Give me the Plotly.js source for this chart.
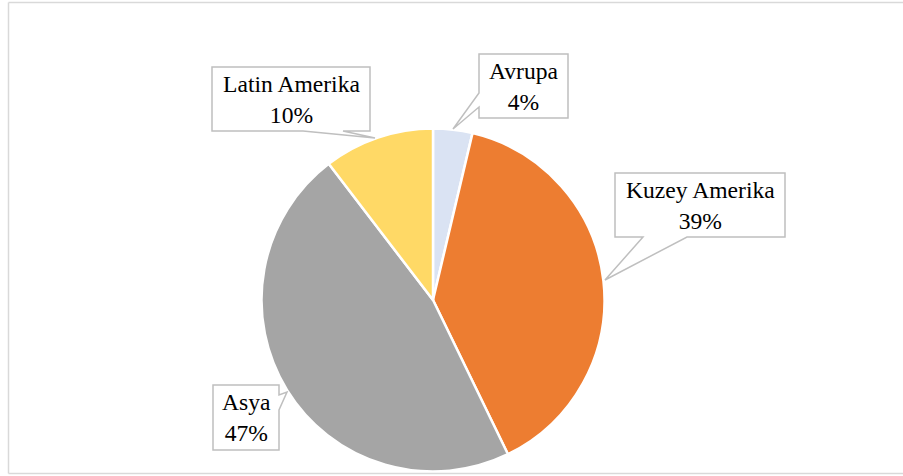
<!DOCTYPE html>
<html>
<head>
<meta charset="utf-8">
<script src="https://cdn.plot.ly/plotly-3.0.1.min.js"></script>
<style>html,body{margin:0;padding:0;background:#fff;}#chart{width:903px;height:476px;}</style>
</head>
<body>
<div id="chart"></div>
<script>
// Data
const categories = ["Avrupa", "Kuzey Amerika", "Asya", "Latin Amerika"];
const values = [3.7, 39.1, 46.8, 10.4];
const colors = ["#dae3f3", "#ed7d31", "#a5a5a5", "#ffd966"];

const W = 903, H = 476;
const px = x => x / W;
const py = y => 1 - y / H;
const FONT = "Liberation Serif";

// Callout geometry (pixels): box + tail path, label center
const callouts = [
  {path: [[479,54],[568,54],[568,118],[479,118],[479,107],[453,129],[479,93]], cx: 523.5, cy: 86},
  {path: [[615,173],[785,173],[785,237],[687,237],[605,280],[643,237],[615,237]], cx: 700, cy: 205},
  {path: [[213,385],[279,385],[279,395],[287,392],[279,410],[279,450],[213,450]], cx: 246, cy: 417.5},
  {path: [[212,67],[370,67],[370,131],[343,131],[375,138],[303,131],[212,131]], cx: 291, cy: 99}
];

const total = values.reduce((a, b) => a + b, 0);

const shapes = [
  {type: "line", xref: "paper", yref: "paper", x0: px(8.5), x1: px(903), y0: py(2.5), y1: py(2.5), line: {color: "#d9d9d9", width: 1.5}},
  {type: "line", xref: "paper", yref: "paper", x0: px(8.5), x1: px(8.5), y0: py(2.5), y1: py(473.5), line: {color: "#d9d9d9", width: 1.5}},
  {type: "line", xref: "paper", yref: "paper", x0: px(8.5), x1: px(903), y0: py(473.5), y1: py(473.5), line: {color: "#d9d9d9", width: 1.5}}
];
const annotations = [];
callouts.forEach((c, i) => {
  const d = "M" + c.path.map(p => px(p[0]) + "," + py(p[1])).join(" L") + " Z";
  shapes.push({type: "path", xref: "paper", yref: "paper", path: d,
    fillcolor: "#ffffff", line: {color: "#bfbfbf", width: 1.5}, layer: "above"});
  annotations.push({
    xref: "paper", yref: "paper", x: px(c.cx), y: py(c.cy),
    xanchor: "center", yanchor: "middle", showarrow: false, align: "center",
    text: categories[i] + "<br>" + Math.round(values[i] / total * 100) + "%",
    font: {family: FONT, size: 23.6, color: "#000000"}
  });
});

const cx = 433, cy = 300, r = 171.5;
const trace = {
  type: "pie",
  labels: categories,
  values: values,
  sort: false,
  direction: "clockwise",
  rotation: 0,
  marker: {colors: colors, line: {color: "#ffffff", width: 2.5}},
  textinfo: "none",
  hoverinfo: "none",
  showlegend: false,
  domain: {x: [px(cx - r), px(cx + r)], y: [py(cy + r), py(cy - r)]}
};

const layout = {
  width: W, height: H,
  margin: {l: 0, r: 0, t: 0, b: 0},
  paper_bgcolor: "#ffffff",
  showlegend: false,
  font: {family: FONT},
  shapes: shapes,
  annotations: annotations
};

Plotly.newPlot("chart", [trace], layout, {displayModeBar: false, staticPlot: true});
</script>
</body>
</html>
